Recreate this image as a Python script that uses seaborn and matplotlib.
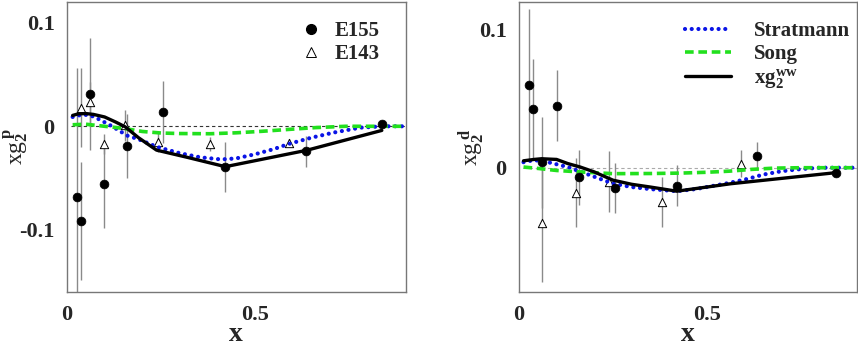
import numpy as np
import pandas as pd
import matplotlib
matplotlib.use("Agg")
import matplotlib.pyplot as plt
from matplotlib.lines import Line2D
from matplotlib.ticker import MultipleLocator
import seaborn as sns

# ---- proton panel data ----
e155p_x = [0.026, 0.037, 0.061, 0.099, 0.160, 0.256, 0.421, 0.636, 0.838]
e155p_y = [-0.068, -0.091, 0.031, -0.056, -0.019, 0.014, -0.039, -0.024, 0.002]
e155p_err = [0.124, 0.057, 0.054, 0.042, 0.031, 0.030, 0.024, 0.015, 0.004]

e143p_x = [0.037, 0.061, 0.099, 0.154, 0.242, 0.379, 0.590]
e143p_y = [0.018, 0.023, -0.017, 0.001, -0.015, -0.017, -0.016]
e143p_err = [0.038, 0.020, 0.010, 0.015, 0.010, 0.007, 0.004]

ww_p_x = [0.015, 0.03, 0.05, 0.07, 0.1, 0.13, 0.155, 0.19, 0.238, 0.32, 0.421, 0.637, 0.837]
ww_p_y = [0.0105, 0.012, 0.0123, 0.0115, 0.009, 0.004, -0.0006, -0.011, -0.023, -0.030, -0.039, -0.0232, -0.004]

strat_p_x = [0.015, 0.03, 0.05, 0.07, 0.09, 0.12, 0.16, 0.19, 0.24, 0.3, 0.355, 0.41,
             0.45, 0.5, 0.55, 0.59, 0.65, 0.71, 0.78, 0.84, 0.9]
strat_p_y = [0.009, 0.0105, 0.011, 0.0095, 0.0058, 0.0, -0.009, -0.0125, -0.020, -0.026, -0.030, -0.032,
             -0.031, -0.027, -0.022, -0.017, -0.011, -0.006, -0.0013, 0.0, 0.0]

song_p_x = [0.015, 0.05, 0.1, 0.15, 0.2, 0.25, 0.3, 0.38, 0.45, 0.52, 0.59, 0.66, 0.74, 0.82, 0.9]
song_p_y = [0.0015, 0.002, 0.0, -0.002, -0.005, -0.0065, -0.007, -0.0072, -0.0063, -0.0048, -0.003,
            -0.0013, 0.0, 0.0, 0.0]

# ---- deuteron panel data ----
e155d_x = [0.026, 0.038, 0.061, 0.101, 0.161, 0.255, 0.420, 0.634, 0.843]
e155d_y = [0.060, 0.0425, 0.004, 0.045, -0.007, -0.0147, -0.013, 0.0085, -0.004]
e155d_err = [0.055, 0.036, 0.033, 0.026, 0.020, 0.018, 0.015, 0.010, 0.003]

e143d_x = [0.061, 0.152, 0.240, 0.380, 0.591]
e143d_y = [-0.040, -0.018, -0.010, -0.025, 0.003]
e143d_err = [0.043, 0.025, 0.022, 0.018, 0.010]

ww_d_x = [0.012, 0.04, 0.06, 0.1, 0.13, 0.163, 0.2, 0.25, 0.3, 0.35, 0.42, 0.564, 0.843]
ww_d_y = [0.005, 0.006, 0.0065, 0.006, 0.003, 0.0005, -0.003, -0.009, -0.012, -0.014, -0.017, -0.0116, -0.0036]

strat_d_x = [0.012, 0.04, 0.07, 0.1, 0.13, 0.18, 0.25, 0.3, 0.35, 0.42, 0.47, 0.52, 0.56, 0.61,
             0.65, 0.7, 0.75, 0.8, 0.85, 0.9]
strat_d_y = [0.004, 0.0055, 0.0045, 0.0025, 0.0005, -0.0045, -0.0115, -0.014, -0.0155, -0.017, -0.0155,
             -0.013, -0.011, -0.008, -0.005, -0.0025, -0.001, 0.0, 0.0, 0.0]

song_d_x = [0.012, 0.05, 0.1, 0.16, 0.25, 0.35, 0.43, 0.5, 0.56, 0.62, 0.68, 0.75, 0.82, 0.9]
song_d_y = [0.0005, -0.0005, -0.002, -0.003, -0.0043, -0.0042, -0.0039, -0.0033, -0.0025, -0.0012,
            -0.0003, 0.0, 0.0, 0.0]

sns.set_style("white")
plt.rcParams["font.family"] = ["Liberation Serif", "DejaVu Serif"]
plt.rcParams["font.weight"] = "bold"
plt.rcParams["mathtext.fontset"] = "custom"
plt.rcParams["mathtext.rm"] = "Liberation Serif:bold"
plt.rcParams["mathtext.it"] = "Liberation Serif:bold"
plt.rcParams["mathtext.bf"] = "Liberation Serif:bold"

BLUE = "#0a14e6"
GREEN = "#22e01e"
DOT = (0, (0.01, 1.6))
DASH = (0, (2.4, 1.3))

fig = plt.figure(figsize=(8.58, 3.5), dpi=100)
ax1 = fig.add_axes([67 / 858, 58 / 350, 338.5 / 858, 290 / 350])
ax2 = fig.add_axes([519 / 858, 58 / 350, 338 / 858, 290 / 350])


def draw_panel(ax, dx, dy, derr, tx, ty, terr, wx, wy, sx, sy, gx, gy, zero_col):
    ax.plot([0.01, 0.9], [0, 0], color=zero_col, lw=0.8, ls=(0, (3, 2.5)), zorder=1)
    ax.vlines(dx, np.array(dy) - np.array(derr), np.array(dy) + np.array(derr),
              color="#8a8a8a", lw=1.0, zorder=2)
    ax.vlines(tx, np.array(ty) - np.array(terr), np.array(ty) + np.array(terr),
              color="#8a8a8a", lw=1.0, zorder=2)
    sns.lineplot(x=sx, y=sy, ax=ax, color=BLUE, lw=3.0, linestyle=DOT,
                 dash_capstyle="round", sort=False, estimator=None, zorder=4)
    sns.lineplot(x=gx, y=gy, ax=ax, color=GREEN, lw=2.6, linestyle=DASH,
                 sort=False, estimator=None, zorder=4)
    sns.lineplot(x=wx, y=wy, ax=ax, color="black", lw=2.4, sort=False,
                 estimator=None, zorder=4)
    sns.scatterplot(x=tx, y=ty, ax=ax, marker="^", s=36, facecolor="white",
                    edgecolor="black", linewidth=0.7, zorder=3)
    sns.scatterplot(x=dx, y=dy, ax=ax, marker="o", s=40, color="black",
                    edgecolor="black", zorder=5)


draw_panel(ax1, e155p_x, e155p_y, e155p_err, e143p_x, e143p_y, e143p_err,
           ww_p_x, ww_p_y, strat_p_x, strat_p_y, song_p_x, song_p_y, "#333333")
draw_panel(ax2, e155d_x, e155d_y, e155d_err, e143d_x, e143d_y, e143d_err,
           ww_d_x, ww_d_y, strat_d_x, strat_d_y, song_d_x, song_d_y, "#aaaaaa")

ax1.set_ylim(-0.16, 0.12)
ax2.set_ylim(-0.09, 0.12)
for ax in (ax1, ax2):
    ax.set_xlim(0, 0.9)
    ax.xaxis.set_minor_locator(MultipleLocator(0.1))
    ax.yaxis.set_minor_locator(MultipleLocator(0.02))
    ax.set_xticks([0, 0.5])
    ax.set_xticklabels(["0", "0.5"])
    ax.tick_params(which="both", direction="in", color="#666666", top=False, right=False,
                   labelsize=16, width=1.0)
    ax.tick_params(which="major", length=10)
    ax.tick_params(which="minor", length=5)
    ax.tick_params(axis="x", pad=9)
    ax.tick_params(axis="y", pad=9)
    for s in ax.spines.values():
        s.set_color("#777777")
        s.set_linewidth(1.0)
    ax.set_xlabel("x", fontsize=20, fontweight="bold")
    ax.xaxis.set_label_coords(0.5, -0.105)

ax1.set_yticks([-0.1, 0, 0.1])
ax1.set_yticklabels(["-0.1", "0", "0.1"])
ax2.set_yticks([0, 0.1])
ax2.set_yticklabels(["0", "0.1"])

ax1.set_ylabel(r"xg$_2^{\,p}$", fontsize=17)
ax1.yaxis.set_label_coords(-0.105, 0.5)
ax2.set_ylabel(r"xg$_2^{\,d}$", fontsize=17)
ax2.yaxis.set_label_coords(-0.095, 0.5)

# legends
h_p = [Line2D([], [], ls="none", marker="o", ms=7, color="black"),
       Line2D([], [], ls="none", marker="^", ms=6.5, mfc="white", mec="black", mew=0.7)]
ax1.legend(h_p, ["E155", "E143"], loc="upper left", bbox_to_anchor=(0.69, 0.935),
           frameon=False, fontsize=15, handlelength=1.0, handletextpad=0.65,
           borderpad=0, borderaxespad=0, labelspacing=0.15)

h_d = [Line2D([], [], color=BLUE, lw=3.0, ls=DOT, dash_capstyle="round"),
       Line2D([], [], color=GREEN, lw=2.6, ls=DASH),
       Line2D([], [], color="black", lw=2.4)]
ax2.legend(h_d, ["Stratmann", "Song", r"xg$_2^{ww}$"], loc="upper left",
           bbox_to_anchor=(0.49, 0.935), frameon=False, fontsize=15,
           handlelength=2.25, handletextpad=1.1, borderpad=0, borderaxespad=0,
           labelspacing=0.15)

fig.savefig("out.png", dpi=100)
